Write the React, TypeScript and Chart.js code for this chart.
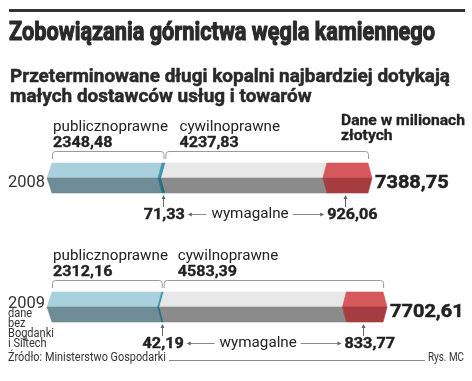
import { useEffect, useRef } from 'react';
import { Chart, registerables } from 'chart.js';

Chart.register(...registerables);

// ---- data ----
const years = ['2008', '2009'];
const publicznoprawne = [2348.48, 2312.16];
const publWymagalne = [71.33, 42.19];
const cywilnoprawne = [4237.83, 4583.39];
const cywWymagalne = [926.06, 833.77];
const totals = [7388.75, 7702.61];
const yearNotes: string[][] = [[], ['dane', 'bez', 'Bogdanki', 'i Siltech']];

const title = 'Zobowiązania górnictwa węgla kamiennego';
const subtitle1 = 'Przeterminowane długi kopalni najbardziej dotykają';
const subtitle2 = 'małych dostawców usług i towarów';
const unitNote = ['Dane w milionach', 'złotych'];
const labelPubl = 'publicznoprawne';
const labelCyw = 'cywilnoprawne';
const labelWym = 'wymagalne';
const source = 'Źródło: Ministerstwo Gospodarki';
const credit = 'Rys. MC';

// derived stacked segments
const segPublRest = publicznoprawne.map((v, i) => v - publWymagalne[i]);
const segCywRest = cywilnoprawne.map((v, i) => v - cywWymagalne[i]);

const fmt = (v: number) => v.toFixed(2).replace('.', ',');

// ---- styles ----
const segColors = [
  { top: '#a9d1dd', bot: '#6e8c95' },
  { top: '#3f95ae', bot: '#2c6f83' },
  { top: '#e7e7e7', bot: '#8b8b8b' },
  { top: '#d6585d', bot: '#a43c41' },
];
const TXT = '#222222';
const ARROW = '#666666';

function drawText(
  ctx: CanvasRenderingContext2D,
  s: string,
  x: number,
  y: number,
  font: string,
  color: string,
  opts: { w?: number; sx?: number; align?: 'left' | 'center' | 'right'; stroke?: number } = {}
) {
  ctx.save();
  ctx.font = font;
  ctx.fillStyle = color;
  ctx.textBaseline = 'alphabetic';
  ctx.textAlign = 'left';
  const m = ctx.measureText(s).width;
  const sx = opts.w ? opts.w / m : opts.sx ?? 1;
  const tw = m * sx;
  const align = opts.align ?? 'left';
  const lx = align === 'left' ? x : align === 'center' ? x - tw / 2 : x - tw;
  ctx.translate(lx, y);
  ctx.scale(sx, 1);
  ctx.fillText(s, 0, 0);
  if (opts.stroke) {
    ctx.strokeStyle = color;
    ctx.lineWidth = opts.stroke;
    ctx.lineJoin = 'round';
    ctx.strokeText(s, 0, 0);
  }
  ctx.restore();
  return { left: lx, right: lx + tw, sx };
}

function measureScale(ctx: CanvasRenderingContext2D, s: string, font: string, w: number) {
  ctx.save();
  ctx.font = font;
  const m = ctx.measureText(s).width;
  ctx.restore();
  return w / m;
}

function arrowHead(ctx: CanvasRenderingContext2D, x: number, y: number, dir: 'up' | 'left' | 'right') {
  ctx.beginPath();
  if (dir === 'up') {
    ctx.moveTo(x, y);
    ctx.lineTo(x - 2, y + 4);
    ctx.lineTo(x + 2, y + 4);
  } else if (dir === 'left') {
    ctx.moveTo(x, y);
    ctx.lineTo(x + 4, y - 2);
    ctx.lineTo(x + 4, y + 2);
  } else {
    ctx.moveTo(x, y);
    ctx.lineTo(x - 4, y - 2);
    ctx.lineTo(x - 4, y + 2);
  }
  ctx.closePath();
  ctx.fill();
}

function bracket(ctx: CanvasRenderingContext2D, xa: number, xb: number, yTop: number, yEnd: number) {
  const r = 3;
  ctx.beginPath();
  ctx.moveTo(xa, yEnd);
  ctx.lineTo(xa, yTop + r);
  ctx.quadraticCurveTo(xa, yTop, xa + r, yTop);
  ctx.lineTo(xb - r, yTop);
  ctx.quadraticCurveTo(xb, yTop, xb, yTop + r);
  ctx.lineTo(xb, yEnd);
  ctx.stroke();
}

const SANS = 'Roboto, "Liberation Sans", sans-serif';
const FONT_LABEL = `15px ${SANS}`;
const FONT_NUM = `bold 14px ${SANS}`;
const FONT_NUM_SX = 1.15;

const infographicPlugin = {
  id: 'infographic',
  afterDraw(chart: any) {
    const ctx: CanvasRenderingContext2D = chart.ctx;
    ctx.save();

    // header
    ctx.fillStyle = '#333333';
    ctx.fillRect(9, 9, 456, 3);
    drawText(ctx, title, 9, 40, `bold 26px ${SANS}`, '#2a2a2a', { w: 426, stroke: 1.1 });
    const subFont = `bold 19px ${SANS}`;
    const subSx = measureScale(ctx, subtitle1, subFont, 440);
    drawText(ctx, subtitle1, 10, 82, subFont, '#2a2a2a', { sx: subSx, stroke: 0.5 });
    drawText(ctx, subtitle2, 10, 102, subFont, '#2a2a2a', { sx: subSx, stroke: 0.5 });

    const labelSx = measureScale(ctx, labelPubl, FONT_LABEL, 115);
    const unitFont = `bold 14px ${SANS}`;
    const unitSx = measureScale(ctx, unitNote[0], unitFont, 124);

    const xScale = chart.scales.x;
    const origin = xScale.getPixelForValue(0);

    years.forEach((yr, i) => {
      const els = [0, 1, 2, 3].map((j) =>
        chart.getDatasetMeta(j).data[i].getProps(['x', 'y', 'base', 'height'], true)
      );
      const y = els[0].y;
      const h = els[0].height;
      const top = y - h / 2;
      const bot = y + h / 2;
      const segs = els.map((e: any) => ({ x0: Math.min(e.base, e.x), x1: Math.max(e.base, e.x) }));

      // bars (prism with chevron ends)
      segs.forEach((s, j) => {
        const dl = j === 0 ? 5 : 4;
        const last = j === segs.length - 1;
        const c = segColors[j];
        ctx.lineWidth = 0.6;
        ctx.fillStyle = c.top;
        ctx.strokeStyle = c.top;
        ctx.beginPath();
        ctx.moveTo(s.x0 + dl, top);
        ctx.lineTo(last ? s.x1 : s.x1 + 4, top);
        ctx.lineTo(last ? s.x1 + 4 : s.x1, y);
        ctx.lineTo(s.x0, y);
        ctx.closePath();
        ctx.fill();
        ctx.stroke();
        ctx.fillStyle = c.bot;
        ctx.strokeStyle = c.bot;
        ctx.beginPath();
        ctx.moveTo(s.x0, y);
        ctx.lineTo(last ? s.x1 + 4 : s.x1, y);
        ctx.lineTo(last ? s.x1 : s.x1 + 4, bot);
        ctx.lineTo(s.x0 + dl, bot);
        ctx.closePath();
        ctx.fill();
        ctx.stroke();
      });

      const publEnd = segs[1].x1;
      const endX = segs[3].x1;

      // brackets
      ctx.strokeStyle = '#9a9a9a';
      ctx.lineWidth = 1;
      bracket(ctx, origin + 5.5, publEnd + 2.5, top - 11.5, top - 4);
      bracket(ctx, publEnd + 4.5, endX + 0.5, top - 11.5, top - 4);

      // labels above
      drawText(ctx, labelPubl, origin + 6, y - 47, FONT_LABEL, TXT, { sx: labelSx });
      drawText(ctx, fmt(publicznoprawne[i]), origin + 6, y - 31.5, FONT_NUM, TXT, { sx: FONT_NUM_SX, stroke: 0.3 });
      drawText(ctx, labelCyw, publEnd + 18, y - 47, FONT_LABEL, TXT, { sx: labelSx });
      drawText(ctx, fmt(cywilnoprawne[i]), publEnd + 18, y - 31.5, FONT_NUM, TXT, { sx: FONT_NUM_SX, stroke: 0.3 });

      // unit note (first bar only)
      if (i === 0) {
        drawText(ctx, unitNote[0], 341, y - 53, unitFont, TXT, { sx: unitSx, stroke: 0.3 });
        drawText(ctx, unitNote[1], 341, y - 38, unitFont, TXT, { sx: unitSx, stroke: 0.3 });
      }

      // year label
      const yearFont = `17px ${SANS}`;
      drawText(ctx, yr, 8, i === 0 ? y + 9 : y + 1, yearFont, '#333333', { w: 37 });
      const noteFont = `12px ${SANS}`;
      yearNotes[i].forEach((n, k) => {
        drawText(ctx, n, 8, y + 10 + k * 10, noteFont, '#333333', { sx: 0.92 });
      });

      // total
      drawText(ctx, fmt(totals[i]), endX + 7, y + 10, `bold 19px ${SANS}`, TXT, { sx: 1.05, stroke: 0.5 });

      // wymagalne arrows
      const tealX = (segs[1].x0 + segs[1].x1) / 2 + 3;
      const redX = (segs[3].x0 + segs[3].x1) / 2;
      ctx.strokeStyle = ARROW;
      ctx.fillStyle = ARROW;
      ctx.lineWidth = 1;
      [tealX, redX].forEach((ax) => {
        ctx.beginPath();
        ctx.moveTo(Math.round(ax) + 0.5, bot + 4);
        ctx.lineTo(Math.round(ax) + 0.5, bot + 14);
        ctx.stroke();
        arrowHead(ctx, Math.round(ax) + 0.5, bot + 2, 'up');
      });

      const numY = y + 41;
      const lineY = Math.round(y + 36) + 0.5;
      const t1 = drawText(ctx, fmt(publWymagalne[i]), tealX + 1.5, numY, `bold 15px ${SANS}`, TXT, {
        sx: 1.08,
        align: 'center',
        stroke: 0.4,
      });
      const t3 = drawText(ctx, fmt(cywWymagalne[i]), redX + 7, numY, `bold 15px ${SANS}`, TXT, {
        sx: 1.08,
        align: 'center',
        stroke: 0.4,
      });
      const t2 = drawText(ctx, labelWym, (tealX + redX) / 2 - 4, numY - 1, FONT_LABEL, TXT, {
        sx: labelSx,
        align: 'center',
      });
      ctx.strokeStyle = '#888888';
      ctx.fillStyle = ARROW;
      ctx.lineWidth = 1;
      ctx.beginPath();
      ctx.moveTo(t1.right + 5, lineY);
      ctx.lineTo(t2.left - 5, lineY);
      ctx.stroke();
      arrowHead(ctx, t1.right + 3, lineY, 'left');
      ctx.beginPath();
      ctx.moveTo(t2.right + 4, lineY);
      ctx.lineTo(t3.left - 6, lineY);
      ctx.stroke();
      arrowHead(ctx, t3.left - 3, lineY, 'right');
    });

    // footer
    const footFont = `12px ${SANS}`;
    const f = drawText(ctx, source, 8, 361, footFont, '#333333', { w: 158 });
    const c = drawText(ctx, credit, 464, 361, footFont, '#333333', { w: 36, align: 'right' });
    ctx.strokeStyle = '#888888';
    ctx.lineWidth = 1;
    ctx.beginPath();
    ctx.moveTo(f.right + 3, 360.5);
    ctx.lineTo(c.left - 3, 360.5);
    ctx.stroke();

    ctx.restore();
  },
};

export default function App() {
  const ref = useRef<HTMLCanvasElement>(null);

  useEffect(() => {
    document.body.style.margin = '0';
    const canvas = ref.current;
    if (!canvas) return;
    const transparent = 'rgba(0,0,0,0)';
    const chart = new Chart(canvas, {
      type: 'bar',
      data: {
        labels: years,
        datasets: [
          { label: 'publicznoprawne (niewymagalne)', data: segPublRest, backgroundColor: transparent },
          { label: 'publicznoprawne wymagalne', data: publWymagalne, backgroundColor: transparent },
          { label: 'cywilnoprawne (niewymagalne)', data: segCywRest, backgroundColor: transparent },
          { label: 'cywilnoprawne wymagalne', data: cywWymagalne, backgroundColor: transparent },
        ],
      },
      options: {
        indexAxis: 'y',
        responsive: false,
        animation: false,
        events: [],
        layout: { padding: { left: 47, right: 35.1, top: 113.5, bottom: 9.5 } },
        datasets: { bar: { barThickness: 30, borderWidth: 0 } },
        scales: {
          x: { stacked: true, min: 0, max: 8000, display: false },
          y: { stacked: true, display: false },
        },
        plugins: {
          legend: { display: false },
          tooltip: { enabled: false },
          title: { display: false },
        },
      },
      plugins: [infographicPlugin],
    });
    return () => chart.destroy();
  }, []);

  return (
    <div style={{ width: 472, height: 381, background: '#ffffff' }}>
      <canvas ref={ref} width={472} height={381} style={{ display: 'block' }} />
    </div>
  );
}
